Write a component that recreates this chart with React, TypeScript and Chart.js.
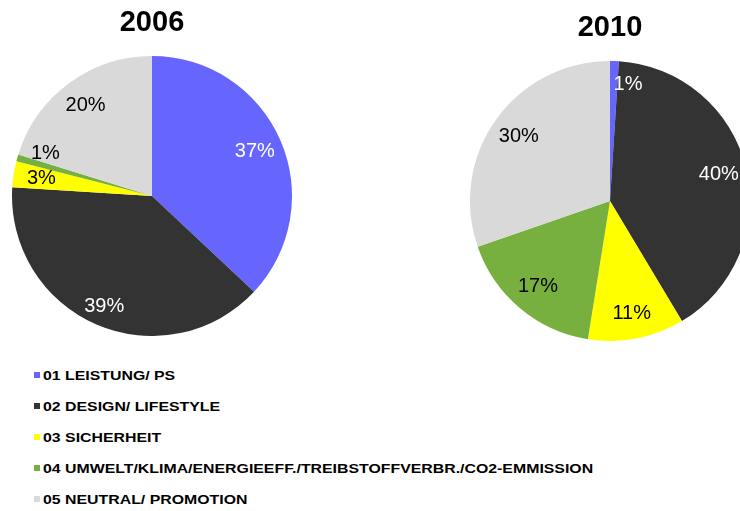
import React, { useEffect, useRef } from "react";
import { Chart, registerables } from "chart.js";

Chart.register(...registerables);

const FONT = "'Liberation Sans', Arial, sans-serif";

const categories = [
  "01 LEISTUNG/ PS",
  "02 DESIGN/ LIFESTYLE",
  "03 SICHERHEIT",
  "04 UMWELT/KLIMA/ENERGIEEFF./TREIBSTOFFVERBR./CO2-EMMISSION",
  "05 NEUTRAL/ PROMOTION",
];
const sliceColors = ["#6666FF", "#333333", "#FFFF00", "#77B03F", "#D9D9D9"];
const labelColors = ["#FFFFFF", "#FFFFFF", "#000000", "#000000", "#000000"];

const values2006 = [37, 39, 3, 0.8, 20.2];
const labels2006 = ["37%", "39%", "3%", "1%", "20%"];

const values2010 = [1, 40, 11, 17, 30];
const labels2010 = ["1%", "40%", "11%", "17%", "30%"];

type PieProps = {
  title: string;
  values: number[];
  labels: string[];
  nudgeDeg: number[];
  radiusFrac: number[];
  left: number;
  top: number;
};

function PieChart({ title, values, labels, nudgeDeg, radiusFrac, left, top }: PieProps) {
  const ref = useRef<HTMLCanvasElement | null>(null);
  useEffect(() => {
    if (!ref.current) return;
    const labelPlugin = {
      id: "sliceLabels",
      afterDatasetsDraw(chart: any) {
        const meta = chart.getDatasetMeta(0);
        const ctx = chart.ctx;
        ctx.save();
        ctx.font = `20px ${FONT}`;
        ctx.textAlign = "center";
        ctx.textBaseline = "middle";
        meta.data.forEach((arc: any, i: number) => {
          const p = arc.getProps(["x", "y", "startAngle", "endAngle", "outerRadius"], true);
          const mid = (p.startAngle + p.endAngle) / 2 + ((nudgeDeg[i] || 0) * Math.PI) / 180;
          const r = p.outerRadius * (radiusFrac[i] || 0.8);
          ctx.fillStyle = labelColors[i];
          ctx.fillText(labels[i], p.x + Math.cos(mid) * r, p.y + Math.sin(mid) * r);
        });
        ctx.restore();
      },
    };
    const chart = new Chart(ref.current, {
      type: "pie",
      data: {
        labels: categories,
        datasets: [
          {
            data: values,
            backgroundColor: sliceColors,
            borderWidth: 0,
            radius: 140,
          } as any,
        ],
      },
      options: {
        animation: false,
        responsive: false,
        maintainAspectRatio: false,
        layout: { padding: 0 },
        plugins: {
          legend: { display: false },
          tooltip: { enabled: false },
          title: {
            display: true,
            text: title,
            color: "#000000",
            font: { family: FONT, size: 29, weight: "bold", lineHeight: 1.2 },
            padding: { top: 6, bottom: 15.2 },
          },
        },
      },
      plugins: [labelPlugin],
    });
    return () => chart.destroy();
  }, []);
  return (
    <canvas
      ref={ref}
      width={300}
      height={336}
      style={{ position: "absolute", left, top, width: 300, height: 336 }}
    />
  );
}

export default function App() {
  return (
    <div
      style={{
        position: "fixed",
        left: 0,
        top: 0,
        width: 740,
        height: 511,
        overflow: "hidden",
        background: "#FFFFFF",
      }}
    >
      <PieChart
        title="2006"
        values={values2006}
        labels={labels2006}
        nudgeDeg={[0, 0, 0, 6, 0]}
        radiusFrac={[0.8, 0.86, 0.8, 0.82, 0.8]}
        left={2}
        top={0}
      />
      <PieChart
        title="2010"
        values={values2010}
        labels={labels2010}
        nudgeDeg={[7, 0, 0, 0, 0]}
        radiusFrac={[0.84, 0.8, 0.82, 0.8, 0.8]}
        left={460}
        top={5}
      />
      <div style={{ position: "absolute", left: 34, top: 359.5 }}>
        {categories.map((c, i) => (
          <div key={c} style={{ height: 31, position: "relative", whiteSpace: "nowrap" }}>
            <div
              style={{
                position: "absolute",
                left: 0,
                top: 12.5,
                width: 6,
                height: 6,
                background: sliceColors[i],
              }}
            />
            <div
              style={{
                position: "absolute",
                left: 9,
                top: 0,
                lineHeight: "31px",
                fontFamily: FONT,
                fontWeight: "bold",
                fontSize: 13,
                color: "#000000",
                transform: "scaleX(1.22)",
                transformOrigin: "left center",
              }}
            >
              {c}
            </div>
          </div>
        ))}
      </div>
    </div>
  );
}
